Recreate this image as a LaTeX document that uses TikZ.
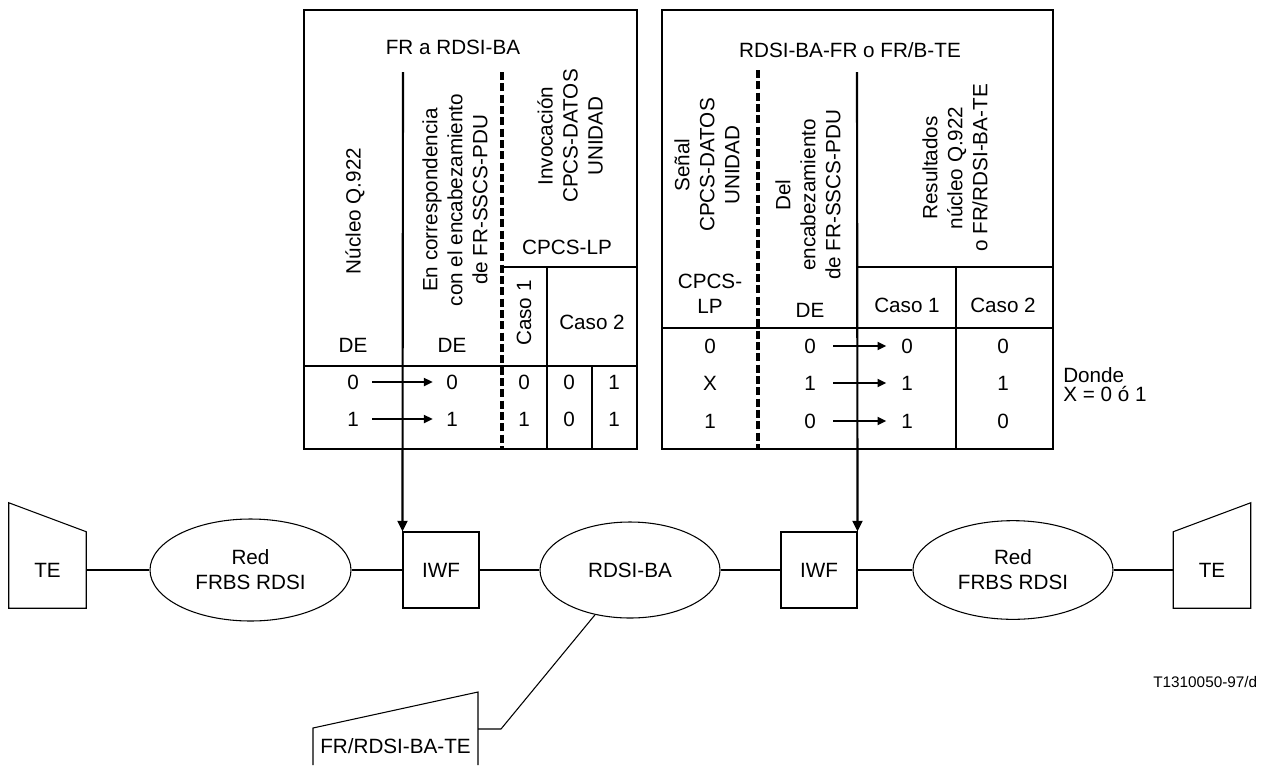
\documentclass[tikz,border=0pt]{standalone}
\usepackage{fontspec}
\setmainfont{Liberation Sans}
\usetikzlibrary{shapes.geometric,arrows.meta}
\begin{document}
\begin{tikzpicture}[x=0.75pt,y=-0.75pt,
  every node/.style={font=\fontsize{15.5}{18.75}\selectfont, inner sep=0pt},
  tline/.style={line width=1.4pt},
  dline/.style={line width=2.6pt, dash pattern=on 6pt off 2.5pt},
  conn/.style={line width=1.5pt},
  rarr/.style={line width=1.3pt,-{Triangle[length=6.5pt,width=6pt]}},
  darr/.style={line width=1.6pt,-{Triangle[length=8pt,width=7.5pt]}},
  shp/.style={line width=0.8pt},
  ell/.style={ellipse, draw, line width=0.8pt, align=center},
  box/.style={rectangle, draw, line width=0.8pt, minimum width=57pt, minimum height=57pt},
  tebox/.style={rectangle, minimum width=57.75pt, minimum height=57pt},
  rot/.style={rotate=90, align=center},
  two/.style={align=center},
  small/.style={font=\fontsize{11.5}{14}\selectfont},
]
\useasboundingbox (0,0) rectangle (1261,765);

% ---------------- left table ----------------
\draw[tline] (304,10) rectangle (637,449);
\draw[dline] (502,72) -- (502,449);
\draw[tline] (502,267) -- (637,267);
\draw[tline] (547,267) -- (547,449);
\draw[tline] (304,366) -- (637,366);
\draw[tline] (592,366) -- (592,449);

\node (lt) at (453,47) {FR a RDSI-BA};
\node[rot] (lnuc) at (355,211) {Núcleo Q.922};
\node[rot] (lcorr) at (455,200) {En correspondencia\\con el encabezamiento\\de FR-SSCS-PDU};
\node[rot] (linv) at (570,136) {Invocación\\CPCS-DATOS\\UNIDAD};
\node (llp) at (567,247) {CPCS-LP};
\node[rot] (lc1) at (524,313) {Caso 1};
\node (lc2) at (592,322) {Caso 2};
\node (lde1) at (353,345) {DE};
\node (lde2) at (452,345) {DE};

\node (la1) at (353,382) {0};
\node (lb1) at (452,382) {0};
\node (lc11) at (524,382) {0};
\node (ld1) at (569,382) {0};
\node (le1) at (614,382) {1};
\node (la2) at (353,419) {1};
\node (lb2) at (452,419) {1};
\node (lc12) at (524,419) {1};
\node (ld2) at (569,419) {0};
\node (le2) at (614,419) {1};
\draw[rarr] ([xshift=10pt]la1.east) -- ([xshift=-10pt]lb1.west);
\draw[rarr] ([xshift=10pt]la2.east) -- ([xshift=-10pt]lb2.west);

% ---------------- right table ----------------
\draw[tline] (662,10) rectangle (1053,449);
\draw[dline] (758,70) -- (758,449);
\draw[tline] (857,267) -- (1053,267);
\draw[tline] (956,267) -- (956,449);
\draw[tline] (662,328) -- (1053,328);

\node (rt) at (850,50) {RDSI-BA-FR o FR/B-TE};
\node[rot] (rsen) at (707,165) {Señal\\CPCS-DATOS\\UNIDAD};
\node[rot] (rdel) at (808,195) {Del\\encabezamiento\\de FR-SSCS-PDU};
\node[rot] (rres) at (955,168) {Resultados\\núcleo Q.922\\o FR/RDSI-BA-TE};
\node[two] (rlp) at (710,294) {CPCS-\\LP};
\node (rde) at (810,310) {DE};
\node (rc1) at (907,305) {Caso 1};
\node (rc2) at (1003,305) {Caso 2};

\node (ra1) at (710,346) {0};
\node (rb1) at (810,346) {0};
\node (rc11) at (907,346) {0};
\node (rd1) at (1003,346) {0};
\node (ra2) at (710,383) {X};
\node (rb2) at (810,383) {1};
\node (rc12) at (907,383) {1};
\node (rd2) at (1003,383) {1};
\node (ra3) at (710,421) {1};
\node (rb3) at (810,421) {0};
\node (rc13) at (907,421) {1};
\node (rd3) at (1003,421) {0};
\draw[rarr] ([xshift=13pt]rb1.east) -- ([xshift=-11pt]rc11.west);
\draw[rarr] ([xshift=13pt]rb2.east) -- ([xshift=-11pt]rc12.west);
\draw[rarr] ([xshift=13pt]rb3.east) -- ([xshift=-11pt]rc13.west);

\node[anchor=west] (don) at (1063,375) {Donde};
\node[anchor=west] (dx) at (1063,394) {X = 0 ó 1};

% ---------------- network ----------------
\node[tebox] (te1) at (47.5,570) {TE};
\node[ell, minimum width=150.75pt, minimum height=76.5pt] (red1) at (250.5,570) {Red\\FRBS RDSI};
\node[box] (iwf1) at (441,570) {IWF};
\node[ell, minimum width=135pt, minimum height=72pt] (rdsi) at (630,570) {RDSI-BA};
\node[box] (iwf2) at (819,570) {IWF};
\node[ell, minimum width=150pt, minimum height=74pt] (red2) at (1013,570) {Red\\FRBS RDSI};
\node[tebox] (te2) at (1212,570) {TE};

\draw[shp] (te1.south west) -- ([yshift=21.75pt]te1.north west) -- (te1.north east) -- (te1.south east) -- cycle;
\draw[shp] (te2.south west) -- (te2.north west) -- ([yshift=21.75pt]te2.north east) -- (te2.south east) -- cycle;

\draw[conn] (te1) -- (red1);
\draw[conn] (red1) -- (iwf1);
\draw[conn] (iwf1) -- (rdsi);
\draw[conn] (rdsi) -- (iwf2);
\draw[conn] (iwf2) -- (red2);
\draw[conn] (red2) -- (te2);

\coordinate (s1) at (403,72);
\coordinate (s2) at (857,72);
\draw[darr] (s1) -- (iwf1.north west);
\draw[darr] (s2) -- (iwf2.north east);

% FR/RDSI-BA-TE terminal
\node (fr3) at (395.5,746) {FR/RDSI-BA-TE};
\draw[shp] (313,765) -- (313,728) -- (478,692) -- (478,765);
\coordinate (frc) at (478,729);
\draw[shp] (frc) -- (501,729) -- (rdsi.-128);

\node[small, anchor=west] (ref) at (1153,682) {T1310050-97/d};
\end{tikzpicture}
\end{document}
